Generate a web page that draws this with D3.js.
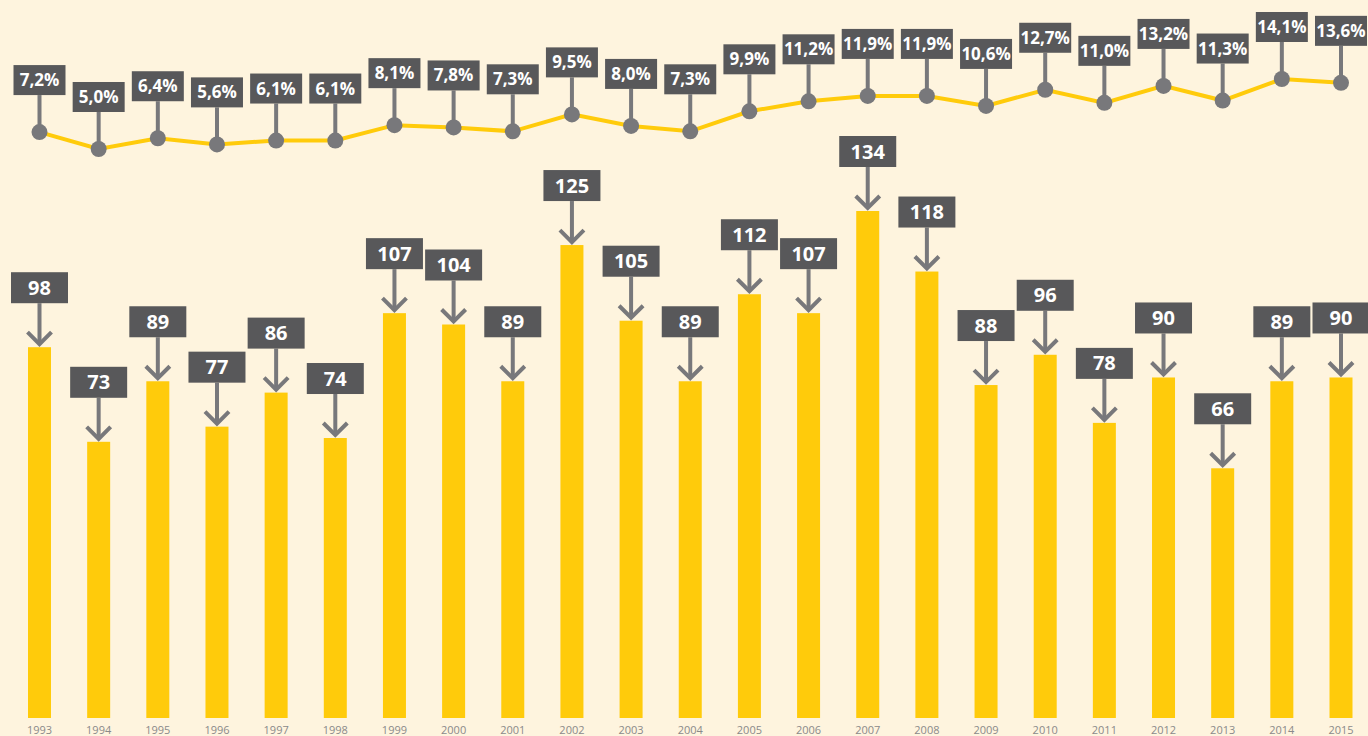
<!DOCTYPE html>
<html><head><meta charset="utf-8">
<script src="https://cdn.jsdelivr.net/npm/d3@7"></script>
<style>
html,body{margin:0;padding:0;background:#fef4de;overflow:hidden}
svg{display:block}
</style></head>
<body>
<svg id="c" width="1368" height="736"></svg>
<script>
const years = ["1993","1994","1995","1996","1997","1998","1999","2000","2001","2002","2003","2004","2005","2006","2007","2008","2009","2010","2011","2012","2013","2014","2015"];
const counts = [98,73,89,77,86,74,107,104,89,125,105,89,112,107,134,118,88,96,78,90,66,89,90];
const shares = [7.2,5.0,6.4,5.6,6.1,6.1,8.1,7.8,7.3,9.5,8.0,7.3,9.9,11.2,11.9,11.9,10.6,12.7,11.0,13.2,11.3,14.1,13.6];

const svg = d3.select("#c");
const W = 1368, H = 736;
svg.append("rect").attr("width",W).attr("height",H).attr("fill","#fef4de");

const x = d3.scalePoint().domain(years).range([39.5, 1341]);
const barW = 23;
const yBar = d3.scaleLinear().domain([0, 134]).range([718, 211]);
const yLine = d3.scaleLinear().domain([5.0, 14.1]).range([149, 79]);

const BAR = "#ffcb0b", BOX = "#58585a", GREY = "#78787b";
const FONT = "'Open Sans', 'DejaVu Sans', sans-serif";

// bars
svg.append("g").selectAll("rect").data(years).join("rect")
  .attr("x", d => x(d) - barW/2)
  .attr("y", (d,i) => yBar(counts[i]))
  .attr("width", barW)
  .attr("height", (d,i) => yBar(0) - yBar(counts[i]))
  .attr("fill", BAR);

// year labels
svg.append("g").selectAll("text").data(years).join("text")
  .attr("x", d => x(d)).attr("y", 734)
  .attr("text-anchor","middle")
  .attr("font-family", FONT).attr("font-size", 11)
  .attr("fill", "#8a8a8a")
  .text(d => d);

// bar arrows and labels
const ba = svg.append("g");
years.forEach((yr,i) => {
  const cx = x(yr), top = yBar(counts[i]);
  const bTop = top - 75, bH = 31, bW = 57;
  ba.append("line").attr("x1",cx).attr("x2",cx).attr("y1",bTop+bH).attr("y2",top-3)
    .attr("stroke",GREY).attr("stroke-width",4);
  ba.append("path").attr("d",`M${cx-12},${top-15}L${cx},${top-3}L${cx+12},${top-15}`)
    .attr("fill","none").attr("stroke",GREY).attr("stroke-width",4);
  ba.append("rect").attr("x",cx-bW/2).attr("y",bTop).attr("width",bW).attr("height",bH).attr("fill",BOX);
  ba.append("text").attr("x",cx).attr("y",bTop+bH/2+7)
    .attr("text-anchor","middle").attr("font-family",FONT).attr("font-weight",700)
    .attr("font-size",20).attr("fill","#fff").text(counts[i]);
});

// line
const line = d3.line().x((d,i)=>x(years[i])).y(d=>yLine(d));
svg.append("path").datum(shares).attr("d",line)
  .attr("fill","none").attr("stroke",BAR).attr("stroke-width",4);

const la = svg.append("g");
shares.forEach((v,i) => {
  const cx = x(years[i]), cy = yLine(v);
  const bTop = cy - 67, bH = 30, bW = 52;
  la.append("line").attr("x1",cx).attr("x2",cx).attr("y1",bTop+bH).attr("y2",cy)
    .attr("stroke",GREY).attr("stroke-width",4);
  la.append("circle").attr("cx",cx).attr("cy",cy).attr("r",8).attr("fill",GREY);
  la.append("rect").attr("x",cx-bW/2).attr("y",bTop).attr("width",bW).attr("height",bH).attr("fill",BOX);
  la.append("text").attr("x",cx).attr("y",bTop+bH/2+6)
    .attr("text-anchor","middle").attr("font-family",FONT).attr("font-weight",700)
    .attr("font-size",17).attr("fill","#fff")
    .text(v.toFixed(1).replace(".",",") + "%");
});
</script>
</body></html>
